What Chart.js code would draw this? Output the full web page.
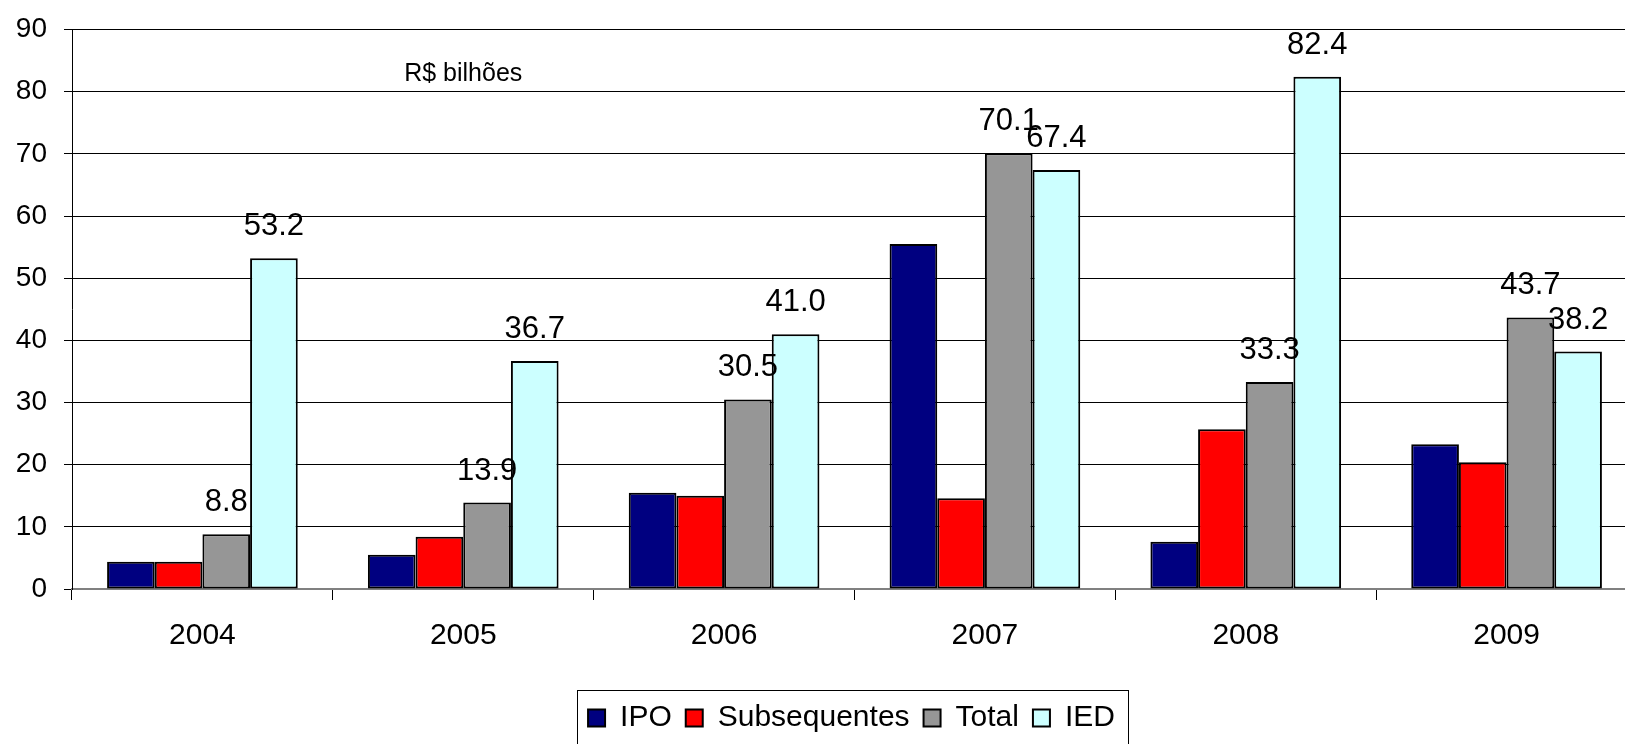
<!DOCTYPE html>
<html>
<head>
<meta charset="utf-8">
<script src="https://cdn.jsdelivr.net/npm/chart.js@4/dist/chart.umd.min.js"></script>
<style>
    html, body { margin: 0; padding: 0; background: #fff; overflow: hidden; }
    .chart-box { width: 1640px; height: 744px; }
</style>
</head>
<body>
<div class="chart-box"><canvas class="chart-ofertas"></canvas></div>
<script>
// Anos en waarden (R$ bilhões)
const anos = ['2004', '2005', '2006', '2007', '2008', '2009'];
const ipo = [4.4, 5.5, 15.5, 55.5, 7.6, 23.3];
const subsequentes = [4.4, 8.4, 15.0, 14.6, 25.7, 20.4];
const total = [8.8, 13.9, 30.5, 70.1, 33.3, 43.7];
const ied = [53.2, 36.7, 41.0, 67.4, 82.4, 38.2];
const unidade = 'R$ bilhões';

const fonte = "'Liberation Sans', Arial, sans-serif";

// Waarden boven de Total en IED staven
const labelPlugin = {
    id: 'labelPlugin',
    afterDatasetsDraw(chart) {
        const ctx = chart.ctx;
        ctx.save();
        ctx.font = '31px ' + fonte;
        ctx.fillStyle = '#000';
        ctx.textAlign = 'center';
        ctx.textBaseline = 'alphabetic';
        chart.data.datasets.forEach((ds, i) => {
            if (!ds.showValue) return;
            chart.getDatasetMeta(i).data.forEach((bar, j) => {
                ctx.fillText(ds.data[j].toFixed(1), bar.x, bar.y - 23);
            });
        });
        // eenheid tekst in de grafiek
        ctx.font = '25px ' + fonte;
        ctx.fillText(unidade, chart.scales.x.getPixelForValue(1), chart.scales.y.getPixelForValue(81.8));
        ctx.restore();
    }
};

// Legenda iets naar rechts schuiven en een kader eromheen tekenen
const legendShift = {
    id: 'legendShift',
    afterLayout(chart) {
        chart.legend.left += 33;
        chart.legend.right += 33;
    },
    afterDraw(chart) {
        const lg = chart.legend;
        const pad = lg.options.labels.padding;
        const lw = lg.lineWidths[0];
        const start = (lg.left + pad + lg.right - lw) / 2;
        const ctx = chart.ctx;
        ctx.save();
        ctx.strokeStyle = '#000';
        ctx.lineWidth = 1;
        ctx.strokeRect(Math.round(start - 11) + 0.5, Math.round(lg.top + 1) + 0.5, Math.round(lw - pad + 24), 80);
        ctx.restore();
    }
};

const ctx = document.querySelector('.chart-ofertas');

new Chart(ctx, {
    type: 'bar',
    data: {
        labels: anos,
        datasets: [
            { label: 'IPO', data: ipo, backgroundColor: '#000080' },
            { label: 'Subsequentes', data: subsequentes, backgroundColor: '#ff0000' },
            { label: 'Total', data: total, backgroundColor: '#969696', showValue: true },
            { label: 'IED', data: ied, backgroundColor: '#ccffff', showValue: true }
        ].map(ds => Object.assign(ds, {
            borderColor: '#000',
            borderWidth: 2,
            borderSkipped: false,
            categoryPercentage: 0.731,
            barPercentage: 1
        }))
    },
    options: {
        responsive: true,
        maintainAspectRatio: false,
        animation: false,
        layout: { padding: { left: 0, right: 3, top: 20, bottom: 1 } },
        plugins: {
            tooltip: { enabled: false },
            legend: {
                position: 'bottom',
                labels: {
                    boxWidth: 17,
                    boxHeight: 17,
                    padding: 14,
                    color: '#000',
                    font: { family: fonte, size: 30 }
                }
            }
        },
        scales: {
            x: {
                afterFit(scale) { scale.height = 100; },
                grid: { offset: true, drawOnChartArea: false, tickLength: 11, color: '#000', lineWidth: 1 },
                border: { color: '#808080', width: 2 },
                ticks: { color: '#000', padding: 18, font: { family: fonte, size: 30 } }
            },
            y: {
                min: 0,
                max: 90,
                afterFit(scale) { scale.width = 72; },
                grid: { color: '#000', lineWidth: 1, tickLength: 8 },
                border: { color: '#000', width: 1 },
                ticks: { stepSize: 10, color: '#000', padding: 17, font: { family: fonte, size: 28, lineHeight: 0.9 } }
            }
        }
    },
    plugins: [labelPlugin, legendShift]
});
</script>
</body>
</html>
